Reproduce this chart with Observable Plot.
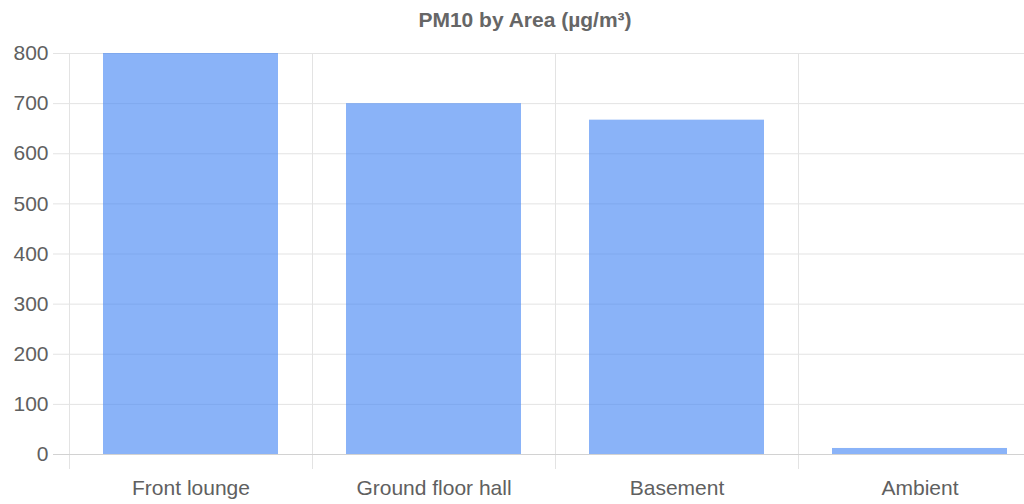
<!DOCTYPE html>
<html><head><meta charset="utf-8">
<script src="https://cdn.jsdelivr.net/npm/d3@7"></script>
<script src="https://cdn.jsdelivr.net/npm/@observablehq/plot@0.6"></script>
<style>
html,body{margin:0;padding:0;background:#fff;overflow:hidden;width:1024px;height:504px}
#title{box-sizing:border-box;width:1050px;height:40px;padding-top:8px;line-height:26px;text-align:center;font:bold 21px "Liberation Sans",Arial,sans-serif;color:#666;white-space:nowrap}
#chart svg{display:block}
</style></head><body>
<div id="title"></div><div id="chart"></div>
<script>
const chartTitle = "PM10 by Area (µg/m³)";
const areas = ["Front lounge", "Ground floor hall", "Basement", "Ambient"];
const pm10 = [800, 700, 667, 12];
const yTicks = [0, 100, 200, 300, 400, 500, 600, 700, 800];

document.getElementById("title").textContent = chartTitle;
const data = areas.map((a, i) => ({area: a, value: pm10[i]}));

const PAD_INNER = 0.28;
function verticalGrid(...args) {
  let scales, dims;
  if (args[0] && typeof args[0].x === "function") { scales = args[0]; dims = args[1]; }
  else { scales = args[1]; dims = args[3]; }
  const x = scales.x;
  const step = x.step ? x.step() : x.bandwidth() / (1 - PAD_INNER);
  const g = d3.create("svg:g");
  const y1 = dims.marginTop, y2 = dims.height - dims.marginBottom;
  for (const a of areas) {
    const px = Math.round(x(a) - step * PAD_INNER / 2) + 0.5;
    g.append("line").attr("x1", px).attr("x2", px).attr("y1", y1).attr("y2", y2)
      .attr("stroke", "#e3e3e3").attr("stroke-width", 1);
  }
  return g.node();
}

const plot = Plot.plot({
  width: 1024,
  height: 464,
  marginLeft: 53,
  marginRight: 0,
  marginTop: 13,
  marginBottom: 35,
  style: {fontFamily: '"Liberation Sans", Arial, sans-serif', fontSize: "21px", color: "#606060", background: "#fff"},
  x: {type: "band", domain: areas, range: [69, 1041], paddingInner: PAD_INNER, paddingOuter: PAD_INNER / 2, tickSize: 0, tickPadding: 11, label: null},
  y: {domain: [0, 800], range: [414, 13], ticks: yTicks, tickSize: 0, tickPadding: 5, label: null},
  marks: [
    Plot.ruleY(yTicks.filter(d => d > 0), {stroke: "#e3e3e3"}),
    verticalGrid,
    Plot.ruleY([0], {stroke: "#d2d2d2"}),
    Plot.barY(data, {x: "area", y: "value", fill: "#4285F4", fillOpacity: 0.62})
  ]
});
document.getElementById("chart").appendChild(plot);
</script>
</body></html>
